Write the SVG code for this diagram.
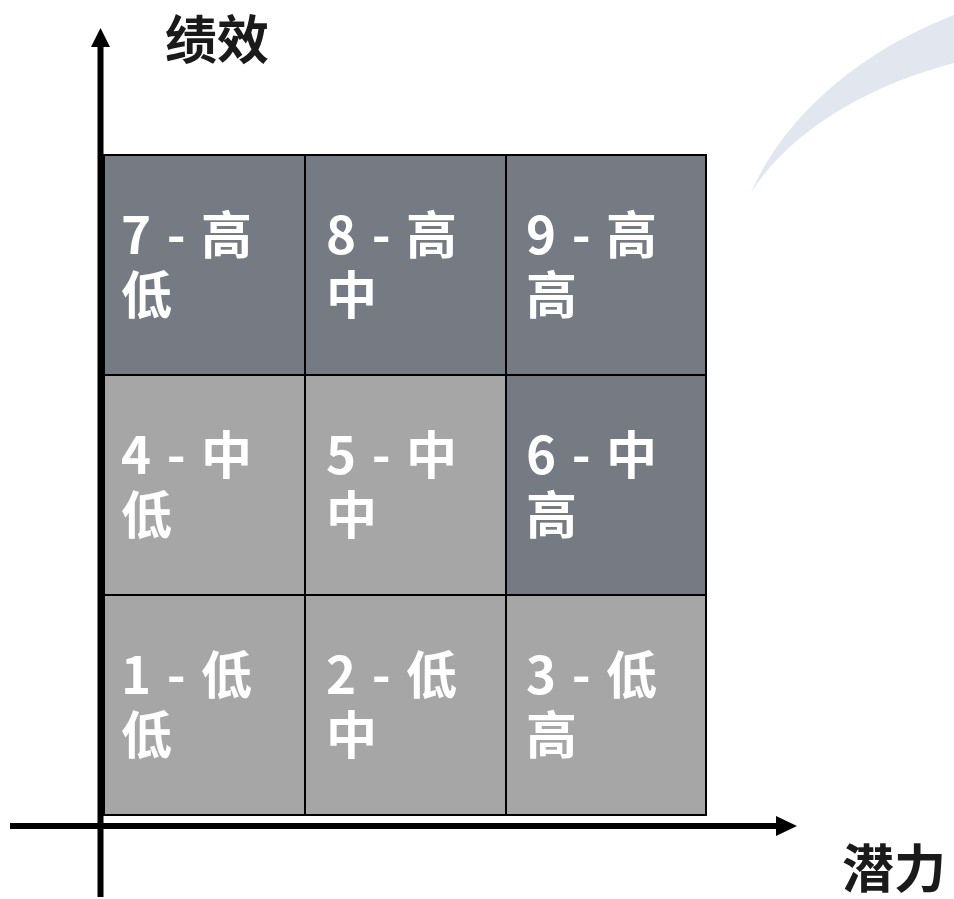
<svg xmlns="http://www.w3.org/2000/svg" width="954" height="899" viewBox="0 0 954 899">
<style>
.dark{fill:#767a83;stroke:#000;stroke-width:2}
.light{fill:#a6a6a6;stroke:#000;stroke-width:2}
.lbl{font-family:"Noto Sans CJK SC","Noto Sans",sans-serif;font-weight:bold;font-size:51px;fill:#fff;letter-spacing:2px}
.axis{font-family:"Noto Sans CJK SC",sans-serif;font-weight:bold;font-size:52px;fill:#1a1a1a}
.ax{stroke:#000;stroke-width:6;fill:none}
</style>
<rect width="954" height="899" fill="#fff"/>
<path d="M751,193 C780,125 850,55 954,15 L954,63 C870,85 790,130 751,193 Z" fill="#e1e6ef"/>
<g id="cell7"><rect class="dark" x="104" y="155" width="201" height="220"/><text class="lbl" x="121" y="254">7 - 高</text><text class="lbl" x="121" y="314">低</text></g>
<g id="cell8"><rect class="dark" x="305" y="155" width="201" height="220"/><text class="lbl" x="326" y="254">8 - 高</text><text class="lbl" x="326" y="314">中</text></g>
<g id="cell9"><rect class="dark" x="506" y="155" width="200" height="220"/><text class="lbl" x="526" y="254">9 - 高</text><text class="lbl" x="526" y="314">高</text></g>
<g id="cell4"><rect class="light" x="104" y="375" width="201" height="220"/><text class="lbl" x="121" y="474">4 - 中</text><text class="lbl" x="121" y="534">低</text></g>
<g id="cell5"><rect class="light" x="305" y="375" width="201" height="220"/><text class="lbl" x="326" y="474">5 - 中</text><text class="lbl" x="326" y="534">中</text></g>
<g id="cell6"><rect class="dark" x="506" y="375" width="200" height="220"/><text class="lbl" x="526" y="474">6 - 中</text><text class="lbl" x="526" y="534">高</text></g>
<g id="cell1"><rect class="light" x="104" y="595" width="201" height="220"/><text class="lbl" x="121" y="694">1 - 低</text><text class="lbl" x="121" y="754">低</text></g>
<g id="cell2"><rect class="light" x="305" y="595" width="201" height="220"/><text class="lbl" x="326" y="694">2 - 低</text><text class="lbl" x="326" y="754">中</text></g>
<g id="cell3"><rect class="light" x="506" y="595" width="200" height="220"/><text class="lbl" x="526" y="694">3 - 低</text><text class="lbl" x="526" y="754">高</text></g>
<g id="connectors">
<line class="ax" x1="100.5" y1="897" x2="100.5" y2="45"/>
<polygon points="91,47 110,47 100.5,28" fill="#000"/>
<line class="ax" x1="10" y1="826" x2="778" y2="826"/>
<polygon points="776,816 776,836 797,826" fill="#000"/>
</g>
<text class="axis" x="165" y="59">绩效</text>
<text class="axis" x="842" y="888" font-size="51">潜力</text>
</svg>
